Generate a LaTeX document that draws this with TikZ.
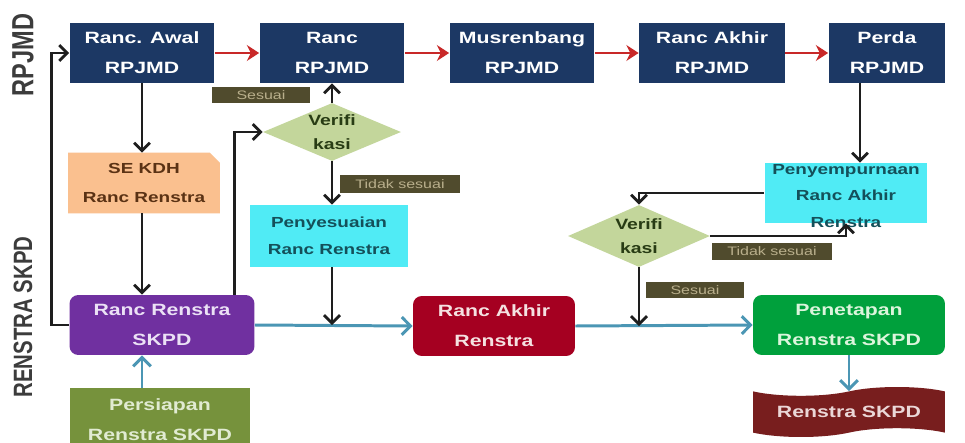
\documentclass[tikz,border=0pt]{standalone}
\usepackage{fontspec}
\setmainfont{Liberation Sans}
\newfontfamily\wide[FakeStretch=1.3]{Liberation Sans}
\usetikzlibrary{arrows.meta,shapes.geometric,shapes.symbols,backgrounds}
\definecolor{navy}{RGB}{28,56,100}
\definecolor{redar}{RGB}{200,40,40}
\definecolor{bluar}{RGB}{75,150,180}
\definecolor{diamc}{RGB}{195,214,155}
\definecolor{diamt}{RGB}{40,60,20}
\definecolor{lblbg}{RGB}{80,75,45}
\definecolor{lbltx}{RGB}{185,175,140}
\definecolor{cyanc}{RGB}{80,235,245}
\definecolor{cyant}{RGB}{20,80,90}
\definecolor{peach}{RGB}{250,192,143}
\definecolor{peacht}{RGB}{90,50,20}
\definecolor{purp}{RGB}{112,48,160}
\definecolor{purpt}{RGB}{235,225,245}
\definecolor{olivec}{RGB}{118,146,60}
\definecolor{olivet}{RGB}{225,235,210}
\definecolor{crim}{RGB}{165,0,33}
\definecolor{crimt}{RGB}{245,225,225}
\definecolor{grn}{RGB}{0,160,60}
\definecolor{grnt}{RGB}{220,245,220}
\definecolor{docc}{RGB}{120,30,30}
\definecolor{doct}{RGB}{235,215,215}
\definecolor{sidec}{RGB}{60,60,60}
\definecolor{blkar}{RGB}{30,30,30}
\begin{document}
\begin{tikzpicture}[x=0.02cm,y=-0.02cm,
  box/.style={rectangle,inner sep=0pt,align=center,minimum height=1.2cm},
  bigtxt/.style={font=\wide\bfseries\fontsize{9.3}{17}\selectfont},
  smalltxt/.style={font=\wide\bfseries\fontsize{8.3}{15.3}\selectfont},
  navybox/.style={box,bigtxt,fill=navy,text=white,minimum width=2.9cm},
  rbox/.style={box,bigtxt,rounded corners=5pt},
  cyanbox/.style={box,smalltxt,fill=cyanc,text=cyant},
  diam/.style={diamond,aspect=2.4,inner sep=0pt,fill=diamc,text=diamt,align=center,
    font=\wide\bfseries\fontsize{8.5}{14}\selectfont},
  lbl/.style={rectangle,inner sep=0pt,fill=lblbg,text=lbltx,
    font=\wide\fontsize{7}{8}\selectfont,minimum height=0.32cm},
  sidelbl/.style={rotate=90,text=sidec,inner sep=0pt},
  blk/.style={draw=blkar,line width=1.6pt,-{Straight Barb[length=4.5pt,width=9pt]}},
  rar/.style={draw=redar,line width=1.6pt,-{Stealth[length=7pt,width=9pt]}},
  blu/.style={draw=bluar,line width=1.7pt,-{Straight Barb[length=5pt,width=10pt]}}]
\useasboundingbox (0,0) rectangle (965,443);
\clip (0,0) rectangle (965,443);

% side labels
\node[sidelbl,font=\bfseries\fontsize{13.4}{15}\selectfont] (lrp) at (23,55) {\scalebox{1}[1.3]{RPJMD}};
\node[sidelbl,font=\bfseries\fontsize{11.6}{14}\selectfont] (lrs) at (23,317) {\scalebox{1}[1.3]{RENSTRA SKPD}};

% top row
\node[navybox] (awal) at (142,53) {Ranc. Awal\\RPJMD};
\node[navybox] (ranc) at (332,53) {Ranc\\RPJMD};
\node[navybox] (musr) at (522,53) {Musrenbang\\RPJMD};
\node[navybox,minimum width=2.92cm] (akhir) at (712,53) {Ranc Akhir\\RPJMD};
\node[navybox,minimum width=2.34cm] (perda) at (887,53) {Perda\\RPJMD};

% left column
\node[box,smalltxt,text=peacht,minimum width=3.02cm,minimum height=1.2cm,font=\wide\bfseries\fontsize{8.3}{16.5}\selectfont] (sekdh) at (144,183) {SE KDH\\Ranc Renstra};
\begin{pgfonlayer}{background}
\fill[white] (0,0) rectangle (965,443);
\fill[peach] (sekdh.north west) -- ([xshift=-0.2cm]sekdh.north east) -- ([yshift=-0.2cm]sekdh.north east) -- (sekdh.south east) -- (sekdh.south west) -- cycle;
\end{pgfonlayer}
\node[rbox,fill=purp,text=purpt,minimum width=3.7cm] (rrs) at (162,325) {Ranc Renstra\\SKPD};
\node[box,bigtxt,fill=olivec,text=olivet,minimum width=3.6cm,minimum height=1.28cm] (pers) at (160,420) {Persiapan\\Renstra SKPD};

% middle
\node[lbl,minimum width=1.96cm] (s1) at (261,95) {Sesuai};
\node[diam,minimum width=2.76cm,minimum height=1.16cm] (v1) at (332,132) {Verifi\\kasi};
\node[lbl,minimum width=2.4cm,minimum height=0.36cm] (t1) at (400,184) {Tidak sesuai};
\node[cyanbox,minimum width=3.16cm,minimum height=1.24cm] (penyes) at (329,236) {Penyesuaian\\Ranc Renstra};
\node[rbox,fill=crim,text=crimt,minimum width=3.24cm] (rakhir) at (494,326) {Ranc Akhir\\Renstra};

% right
\node[cyanbox,minimum width=3.26cm,minimum height=1.2cm] (penyemp) at (846,193) {};
\node[inner sep=0pt,align=center,smalltxt,text=cyant] (penyempt) at (846,196) {Penyempurnaan\\Ranc Akhir\\Renstra};
\node[diam,minimum width=2.84cm,minimum height=1.24cm] (v2) at (639,236) {Verifi\\kasi};
\node[lbl,minimum width=2.4cm,minimum height=0.34cm] (t2) at (772,251) {Tidak sesuai};
\node[lbl,minimum width=1.98cm] (s2) at (695,290) {Sesuai};
\node[rbox,fill=grn,text=grnt,minimum width=3.84cm] (penet) at (849,325) {Penetapan\\Renstra SKPD};
\node[tape,tape bend height=5pt,inner sep=0pt,fill=docc,text=doct,bigtxt,minimum width=3.84cm,minimum height=1.0cm] (doc) at (849,412) {Renstra SKPD};

% red arrows
\draw[rar] (awal.east) -- (ranc.west);
\draw[rar] (ranc.east) -- (musr.west);
\draw[rar] (musr.east) -- (akhir.west);
\draw[rar] (akhir.east) -- (perda.west);

% blue arrows
\draw[blu] (rrs.east) -- (rakhir.west);
\draw[blu] (rakhir.east) -- (penet.west);
\draw[blu] (penet.south) -- (doc.north);
\draw[blu] (awal.south |- pers.north) -- (awal.south |- rrs.south);

% black arrows
\draw[blk] (awal.south) -- (awal.south |- sekdh.north);
\draw[blk] (awal.south |- sekdh.south) -- (awal.south |- rrs.north);
\draw[blk] (rrs.west) -- ++(-18,0) |- (awal.west);
\draw[blk] ([xshift=-0.4cm]rrs.north east) |- (v1.west);
\draw[blk] (v1.north) -- (ranc.south);
\draw[blk] (v1.south) -- (v1.south |- penyes.north);
\draw[blk] (v1.south |- penyes.south) -- (v1.south |- rrs.east);
\draw[blk] ([xshift=-0.54cm]perda.south) -- ([xshift=-0.54cm]perda.south |- penyemp.north);
\draw[blk] (penyemp.west) -| (v2.north);
\draw[blk] (v2.east) -| (penyemp.south);
\draw[blk] (v2.south) -- (v2.south |- rakhir.east);
\end{tikzpicture}
\end{document}
